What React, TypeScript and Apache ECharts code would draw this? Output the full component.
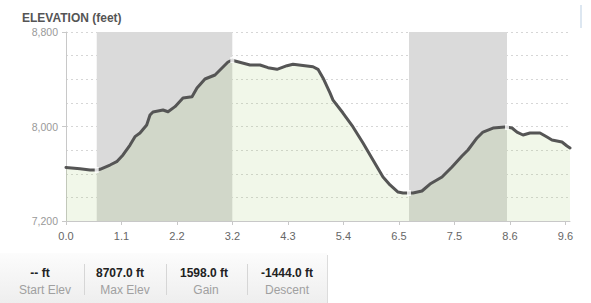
import React, { useEffect, useRef } from "react";
import * as echarts from "echarts";

// distance (miles) and elevation (feet) read from the profile
const distances = [
  0.0, 0.271, 0.465, 0.595, 0.659, 0.852, 0.982, 1.104, 1.24, 1.336, 1.433, 1.563, 1.627, 1.685,
  1.879, 1.976, 2.111, 2.266, 2.441, 2.537, 2.692, 2.886, 3.041, 3.138, 3.221, 3.273, 3.564,
  3.758, 3.913, 4.087, 4.281, 4.397, 4.629, 4.784, 4.881, 4.978, 5.113, 5.172, 5.365, 5.559,
  5.753, 5.946, 6.14, 6.276, 6.431, 6.527, 6.644, 6.721, 6.895, 7.05, 7.283, 7.476, 7.67, 7.786,
  7.961, 8.077, 8.271, 8.503, 8.542, 8.639, 8.735, 8.852, 8.987, 9.181, 9.317, 9.413, 9.607,
  9.704, 9.762,
];
const elevations = [
  7653, 7643, 7632, 7632, 7638, 7674, 7702, 7759, 7843, 7914, 7945, 8013, 8097, 8123,
  8140, 8125, 8168, 8241, 8252, 8326, 8402, 8436, 8504, 8546, 8563, 8554, 8521,
  8521, 8498, 8484, 8515, 8527, 8515, 8506, 8484, 8411, 8284, 8224, 8114, 7996,
  7860, 7716, 7572, 7505, 7445, 7437, 7437, 7437, 7454, 7513, 7572, 7657, 7750, 7801,
  7903, 7953, 7987, 7996, 7996, 7987, 7953, 7928, 7945, 7945, 7911, 7886, 7869,
  7835, 7818,
];
// climbing segments highlighted (start, end miles)
const bands: [number, number][] = [
  [0.595, 3.221],
  [6.644, 8.542],
];
const xTickLabels = ["0.0", "1.1", "2.2", "3.2", "4.3", "5.4", "6.5", "7.5", "8.6", "9.6"];
const xTickStep = 1.075;
const xMax = 9.762;
const yMin = 7200;
const yMax = 8800;
const yStep = 800;

const statValues = ["-- ft", "8707.0 ft", "1598.0 ft", "-1444.0 ft"];
const statLabels = ["Start Elev", "Max Elev", "Gain", "Descent"];

const FONT = 'Arial, "Liberation Sans", sans-serif';

export default function App() {
  const ref = useRef<HTMLDivElement>(null);
  useEffect(() => {
    if (!ref.current) return;
    const chart = echarts.init(ref.current, null, { renderer: "svg" });
    const tickValues = xTickLabels.map((_, i) => +(i * xTickStep).toFixed(4));
    const lineData = distances.map((d, i) => [d, elevations[i]]);
    const edgeData = bands.flat().map((d) => [d, elevations[distances.indexOf(d)]]);

    const valueX = [40, 120, 204, 287];
    const labelX = [45, 125, 206, 287];
    const sepX = [84, 166, 247];

    const graphic: any[] = [
      {
        type: "text",
        left: 22,
        top: 12,
        style: { text: "ELEVATION (feet)", fill: "#555", font: `bold 12px ${FONT}` },
      },
      {
        type: "rect",
        shape: { x: 580, y: 5, width: 2, height: 23 },
        style: { fill: "#dde7f1" },
      },
      {
        type: "rect",
        shape: { x: 0, y: 253, width: 327, height: 50 },
        style: {
          fill: new echarts.graphic.LinearGradient(0, 0, 0, 1, [
            { offset: 0, color: "#fcfcfc" },
            { offset: 1, color: "#eeeeee" },
          ]),
        },
        z: -1,
      },
      {
        type: "line",
        shape: { x1: 327.5, y1: 255, x2: 327.5, y2: 303 },
        style: { stroke: "#dcdcdc", lineWidth: 1 },
      },
      ...sepX.map((x) => ({
        type: "line",
        shape: { x1: x + 0.5, y1: 264, x2: x + 0.5, y2: 295 },
        style: { stroke: "#d6d6d6", lineWidth: 1 },
      })),
      ...statValues.map((v, i) => ({
        type: "text",
        x: valueX[i],
        y: 273,
        style: {
          text: v,
          fill: "#222",
          font: `bold 12px ${FONT}`,
          align: "center",
          verticalAlign: "middle",
        },
      })),
      ...statLabels.map((v, i) => ({
        type: "text",
        x: labelX[i],
        y: 290,
        style: {
          text: v,
          fill: "#a0a0a0",
          font: `12px ${FONT}`,
          align: "center",
          verticalAlign: "middle",
        },
      })),
    ];

    chart.setOption({
      animation: false,
      backgroundColor: "#fff",
      grid: { left: 66, right: 21, top: 32, bottom: 82, containLabel: false },
      xAxis: {
        type: "value",
        min: 0,
        max: xMax,
        interval: xTickStep,
        axisLine: { show: true, lineStyle: { color: "#c8c8c8", width: 1 } },
        axisTick: {
          show: true,
          length: 4,
          customValues: tickValues,
          lineStyle: { color: "#c8c8c8" },
        },
        axisLabel: {
          customValues: tickValues,
          margin: 9,
          color: "#666",
          fontSize: 11,
          fontFamily: FONT,
          formatter: (v: number) => {
            const idx = Math.round(v / xTickStep);
            return Math.abs(v - idx * xTickStep) < 0.01 ? xTickLabels[idx] ?? "" : "";
          },
        },
        splitLine: { show: false },
      },
      yAxis: {
        type: "value",
        min: yMin,
        max: yMax,
        interval: yStep,
        axisLine: { show: true, lineStyle: { color: "#c8c8c8", width: 1 } },
        axisTick: { show: true, length: 4, lineStyle: { color: "#c8c8c8" } },
        minorTick: { show: false, splitNumber: 4 },
        axisLabel: {
          color: "#999",
          fontSize: 10.5,
          fontFamily: FONT,
          margin: 8,
          formatter: (v: number) => v.toLocaleString("en-US"),
        },
        splitLine: { show: true, lineStyle: { color: "#d6d6d6", type: [2, 3], width: 1 } },
        minorSplitLine: { show: true, lineStyle: { color: "#d6d6d6", type: [2, 3], width: 1 } },
      },
      series: [
        {
          type: "line",
          data: [],
          z: 1,
          silent: true,
          markArea: {
            silent: true,
            itemStyle: { color: "#dadada" },
            data: bands.map((b) => [{ xAxis: b[0] }, { xAxis: b[1] }]),
          },
        },
        {
          type: "line",
          data: lineData,
          z: 2,
          showSymbol: false,
          symbol: "none",
          smooth: false,
          lineStyle: { color: "#555", width: 3, join: "round", cap: "round" },
          areaStyle: { color: "rgba(164,200,110,0.22)" },
        },
        {
          type: "scatter",
          data: edgeData,
          z: 3,
          symbol: "rect",
          symbolSize: [4, 6],
          itemStyle: { color: "#fff" },
          silent: true,
        },
      ],
      graphic,
    });
    return () => chart.dispose();
  }, []);
  return (
    <div
      ref={ref}
      style={{ position: "fixed", left: 0, top: 0, width: 591, height: 303 }}
    />
  );
}
